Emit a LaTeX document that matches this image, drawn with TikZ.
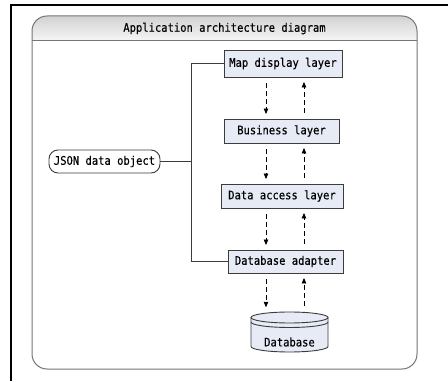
\documentclass[tikz,border=0pt]{standalone}
\usepackage{fontspec}
\setmonofont[FakeStretch=0.89,FakeBold=0.25]{DejaVu Sans Mono}
\usetikzlibrary{arrows.meta,calc}
\definecolor{boxfill}{HTML}{E6EBF5}
\definecolor{boxline}{HTML}{3C3C3C}
\definecolor{panelline}{HTML}{767676}
\definecolor{headtop}{HTML}{D2D2D2}
\definecolor{headbot}{HTML}{F6F6F6}
\tikzset{
  every node/.style={font=\ttfamily\fontsize{11.8}{13}\selectfont, text=black},
  layerbox/.style={draw=boxline, fill=boxfill, line width=0.9pt, inner sep=0pt},
  pill/.style={draw=boxline, fill=white, line width=0.9pt, rounded corners=9pt, inner sep=0pt},
  conn/.style={draw=boxline, line width=0.9pt},
  flow/.style={draw=black, line width=0.8pt, dash pattern=on 5pt off 3pt,
    -{Triangle[length=5.5pt,width=4.5pt]}, shorten <=6pt, shorten >=4.5pt},
}
\begin{document}
\begin{tikzpicture}[x=1pt,y=1pt]
\useasboundingbox (0,0) rectangle (448,381);
\fill[white] (0,0) rectangle (448,381);

% outer page frame
\draw[line width=2pt, black] (448,376) -- (11,376) -- (11,0);

% panel with shaded title bar
\shade[top color=headtop, bottom color=headbot]
  (32,340) -- (32,350) arc[start angle=180,end angle=90,radius=15] -- (402,365)
  arc[start angle=90,end angle=0,radius=15] -- (417,340) -- cycle;
\draw[panelline, line width=1pt, rounded corners=15pt] (32,12) rectangle (417,365);
\draw[panelline, line width=1pt] (32,340) -- (417,340);
\node (title) at (224.5,352.5) {Application architecture diagram};

% layers
\node[layerbox, minimum width=118pt, minimum height=27pt] (map) at (283,317.5) {Map display layer};
\node[layerbox, minimum width=115pt, minimum height=24pt] (biz) at (281.5,250) {Business layer};
\node[layerbox, minimum width=122pt, minimum height=24pt] (dal) at (282,185) {Data access layer};
\node[layerbox, minimum width=115pt, minimum height=23pt] (adp) at (285.5,119.5) {Database adapter};

% data object feeding the top and bottom layers
\node[pill, minimum width=111pt, minimum height=23pt] (json) at (104.5,219.5) {JSON data object};
\coordinate (bus) at (191,0);
\draw[conn] (map.west) -- (map.west -| bus) |- (adp.west);
\draw[conn] (json.east) -- (json.east -| bus);

% database cylinder
\fill[boxfill] (251,63.5) -- (251,34.5) arc[start angle=180,end angle=360,x radius=38.5,y radius=5.5]
  -- (328,63.5) arc[start angle=0,end angle=180,x radius=38.5,y radius=5.5] -- cycle;
\draw[boxline, line width=0.9pt] (251,63.5) -- (251,34.5)
  arc[start angle=180,end angle=360,x radius=38.5,y radius=5.5] -- (328,63.5);
\draw[boxline, line width=0.9pt] (289.5,63.5) ellipse[x radius=38.5,y radius=5.5];
\draw[boxline, line width=0.9pt] (251,59) arc[start angle=180,end angle=360,x radius=38.5,y radius=5.5];
\node[inner sep=0pt, minimum width=77pt, minimum height=40pt] (db) at (289.5,49) {};
\node (dblabel) at (289.5,39) {Database};

% request / response flows
\coordinate (down) at (266,0);
\coordinate (up) at (304,0);
\foreach \a/\b in {map/biz, biz/dal, dal/adp, adp/db} {
  \draw[flow] (\a.south -| down) -- (\b.north -| down);
  \draw[flow] (\b.north -| up) -- (\a.south -| up);
}
\end{tikzpicture}
\end{document}
